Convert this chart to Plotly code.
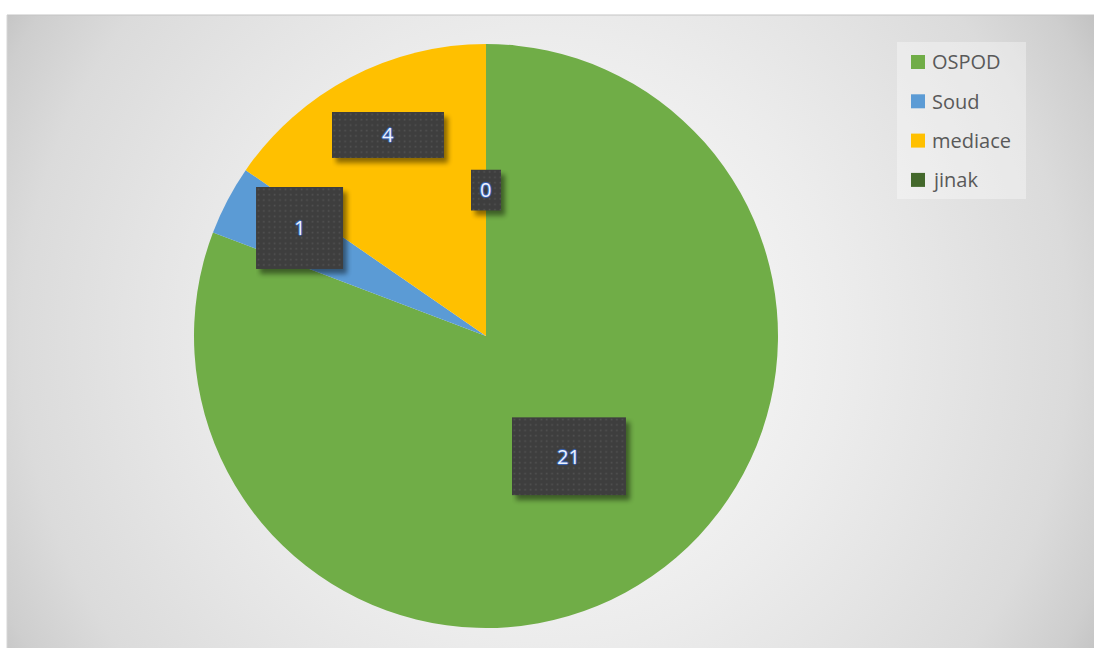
import base64
import math
import plotly.graph_objects as go

# ---- data ----
labels = ["OSPOD", "Soud", "mediace", "jinak"]
values = [21, 1, 4, 0]
colors = ["#70AD47", "#5B9BD5", "#FFC000", "#43682B"]

# ---- style / geometry (pixels) ----
W, H = 1094, 648
CX, CY, R = 486, 336, 292
label_r = [0.50, 0.738, 0.766, 0.50]    # radial position of data labels (fraction of radius)
label_dtheta = [0.0, 2.4, 1.7, 0.0]     # small angular nudge of labels (degrees)
box_w = [114, 87, 112, 30]
box_h = [78, 82, 46, 41]
legend_box = (897, 42, 1026, 199)
legend_top, legend_step = 62, 39.3
FONT = "Open Sans"


def px(x):
    return x / W


def py(y):
    return 1 - y / H


def uri(svg):
    return "data:image/svg+xml;base64," + base64.b64encode(svg.encode()).decode()


fig = go.Figure()
fig.add_trace(go.Pie(
    labels=labels, values=values, sort=False, direction="clockwise", rotation=0,
    marker=dict(colors=colors, line=dict(width=0)),
    textinfo="none", hoverinfo="label+value", showlegend=False,
    domain=dict(x=[px(CX - R), px(CX + R)], y=[py(CY + R), py(CY - R)]),
))

images = []
# background radial gradient of chart area (extends past the window's right/bottom edges)
bx0, by0 = 7, 15
bw, bh = W - bx0 + 10, H - by0 + 10
bg_svg = f"""<svg xmlns='http://www.w3.org/2000/svg' width='{bw}' height='{bh}'>
<defs><radialGradient id='g' gradientUnits='userSpaceOnUse' cx='{538}' cy='{325}' r='640'>
<stop offset='0' stop-color='#ffffff'/>
<stop offset='0.47' stop-color='#ececec'/>
<stop offset='0.62' stop-color='#e5e5e5'/>
<stop offset='0.82' stop-color='#dbdbdb'/>
<stop offset='0.94' stop-color='#cecece'/>
<stop offset='1' stop-color='#c2c2c2'/>
</radialGradient></defs>
<rect width='{bw}' height='{bh}' fill='url(#g)'/>
</svg>"""
images.append(dict(source=uri(bg_svg), xref="paper", yref="paper", x=px(bx0), y=py(by0),
                   sizex=bw / W, sizey=bh / H, sizing="stretch", xanchor="left", yanchor="top",
                   layer="below"))

annotations = []
total = sum(values)
cum = 0
for i, v in enumerate(values):
    mid = (cum + v / 2) / total
    cum += v
    th = 2 * math.pi * mid + math.radians(label_dtheta[i])
    x = CX + label_r[i] * R * math.sin(th)
    y = CY - label_r[i] * R * math.cos(th)
    w, h = box_w[i], box_h[i]
    sw, sh = w + 14, h + 14
    box_svg = f"""<svg xmlns='http://www.w3.org/2000/svg' width='{sw}' height='{sh}'>
<defs>
<pattern id='p' width='5.4' height='5.4' patternUnits='userSpaceOnUse'>
<rect width='5.4' height='5.4' fill='#3e3e3e'/>
<rect x='1.6' y='1.6' width='1.6' height='1.6' fill='#525252'/>
</pattern>
<filter id='b' x='-30%' y='-30%' width='160%' height='160%'><feGaussianBlur stdDeviation='2.5'/></filter>
</defs>
<rect x='4' y='5' width='{w}' height='{h}' fill='#000' opacity='0.45' filter='url(#b)'/>
<rect x='0' y='0' width='{w}' height='{h}' fill='url(#p)'/>
</svg>"""
    images.append(dict(source=uri(box_svg), xref="paper", yref="paper",
                       x=px(x - w / 2), y=py(y - h / 2), sizex=sw / W, sizey=sh / H,
                       sizing="stretch", xanchor="left", yanchor="top", layer="above"))
    annotations.append(dict(
        x=px(x), y=py(y), xref="paper", yref="paper", text=str(v), showarrow=False,
        font=dict(family=FONT, size=20, color="#eef3fc",
                  shadow="0 0 1px #3a68c0, 0 0 1px #3a68c0, 1px 0 1px #3a68c0, -1px 0 1px #3a68c0, 0 1px 1px #3a68c0, 0 -1px 1px #3a68c0"),
        xanchor="center", yanchor="middle",
    ))

shapes = [
    # chart area border (top and left visible)
    dict(type="line", xref="paper", yref="paper", x0=px(bx0), x1=1.01, y0=py(by0), y1=py(by0),
         line=dict(color="#c4c4c4", width=1)),
    dict(type="line", xref="paper", yref="paper", x0=px(bx0), x1=px(bx0), y0=-0.01, y1=py(by0),
         line=dict(color="#d6d6d6", width=1)),
    # legend box
    dict(type="rect", xref="paper", yref="paper", x0=px(legend_box[0]), x1=px(legend_box[2]),
         y0=py(legend_box[3]), y1=py(legend_box[1]), fillcolor="rgba(255,255,255,0.35)",
         line=dict(width=0), layer="above"),
]
for i, lab in enumerate(labels):
    yc = legend_top + i * legend_step
    shapes.append(dict(type="rect", xref="paper", yref="paper", x0=px(911), x1=px(925),
                       y0=py(yc + 7), y1=py(yc - 7), fillcolor=colors[i], line=dict(width=0),
                       layer="above"))
    annotations.append(dict(x=px(930), y=py(yc), xref="paper", yref="paper", text=lab,
                            showarrow=False, xanchor="left", yanchor="middle",
                            font=dict(family=FONT, size=20, color="#595959")))

fig.update_layout(
    width=W, height=H, autosize=False,
    margin=dict(l=0, r=0, t=0, b=0),
    paper_bgcolor="white", plot_bgcolor="white",
    images=images, annotations=annotations, shapes=shapes,
    showlegend=False,
)
fig.write_html("out.html", config={"displayModeBar": False},
               post_script="document.body.style.margin='0';document.body.style.overflow='hidden';")
